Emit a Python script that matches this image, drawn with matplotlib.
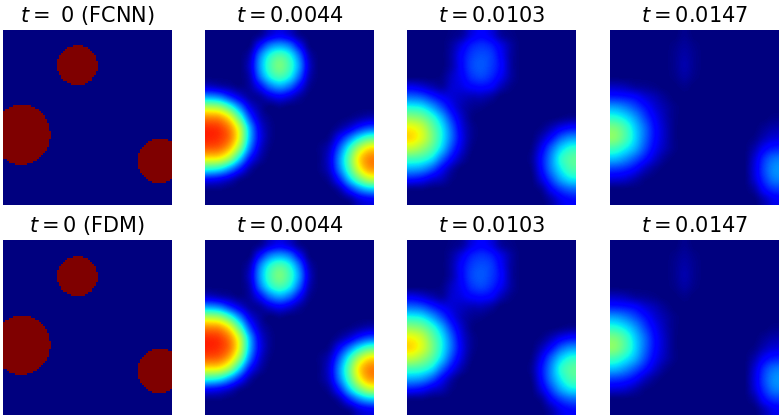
import numpy as np
import matplotlib
matplotlib.use('Agg')
import matplotlib.pyplot as plt

# initial discs, panel fractions
disc_x = [0.441, 0.110, 0.925]
disc_y = [0.206, 0.600, 0.749]
disc_rx = [0.122, 0.168, 0.126]
disc_ry = [0.114, 0.171, 0.128]

# values on a 17x17 grid
field_0044 = [
    [0, 0, 0, 0, 0, .02, .08, .11, .08, .02, 0, 0, 0, 0, 0, 0, 0],
    [0, 0, 0, 0, .01, .13, .24, .28, .24, .12, .01, 0, 0, 0, 0, 0, 0],
    [0, 0, 0, 0, .05, .24, .38, .44, .38, .23, .05, 0, 0, 0, 0, 0, 0],
    [0, 0, 0, 0, .07, .27, .42, .49, .42, .27, .07, 0, 0, 0, 0, 0, 0],
    [0, 0, 0, 0, .05, .23, .37, .43, .37, .22, .05, 0, 0, 0, 0, 0, 0],
    [.07, .05, .03, .01, .03, .12, .23, .28, .23, .12, .02, 0, 0, 0, 0, 0, 0],
    [.28, .25, .17, .09, .03, .03, .08, .11, .08, .03, 0, 0, 0, 0, 0, 0, 0],
    [.56, .53, .42, .26, .10, .03, 0, .01, 0, 0, 0, 0, 0, 0, 0, 0, 0],
    [.76, .74, .64, .44, .20, .06, .01, 0, 0, 0, 0, 0, 0, 0, .01, .03, .05],
    [.86, .84, .76, .58, .30, .10, .02, 0, 0, 0, 0, 0, 0, .03, .08, .15, .20],
    [.87, .85, .78, .60, .31, .11, .02, 0, 0, 0, 0, 0, .02, .12, .24, .36, .44],
    [.81, .79, .70, .51, .25, .08, .01, 0, 0, 0, 0, .01, .06, .21, .39, .56, .66],
    [.65, .63, .53, .34, .14, .04, 0, 0, 0, 0, 0, .01, .08, .26, .46, .66, .76],
    [.39, .36, .27, .15, .04, 0, 0, 0, 0, 0, 0, .01, .07, .24, .43, .62, .73],
    [.13, .11, .07, .02, 0, 0, 0, 0, 0, 0, 0, 0, .03, .15, .32, .47, .57],
    [.01, .01, 0, 0, 0, 0, 0, 0, 0, 0, 0, 0, 0, .04, .15, .25, .31],
    [0, 0, 0, 0, 0, 0, 0, 0, 0, 0, 0, 0, 0, 0, .02, .08, .11],
]
field_0103 = [
    [0, 0, 0, 0, .01, .03, .09, .12, .09, .03, .01, 0, 0, 0, 0, 0, 0],
    [0, 0, 0, 0, .03, .09, .15, .17, .15, .09, .03, 0, 0, 0, 0, 0, 0],
    [0, 0, 0, 0, .04, .12, .18, .20, .18, .11, .03, 0, 0, 0, 0, 0, 0],
    [0, 0, 0, 0, .04, .12, .19, .21, .18, .12, .03, 0, 0, 0, 0, 0, 0],
    [0, 0, 0, .01, .06, .11, .17, .19, .16, .10, .03, 0, 0, 0, 0, 0, 0],
    [.10, .08, .05, .03, .07, .09, .12, .13, .11, .05, .01, 0, 0, 0, 0, 0, 0],
    [.23, .21, .16, .11, .08, .06, .05, .05, .03, 0, 0, 0, 0, 0, 0, 0, 0],
    [.38, .36, .29, .20, .11, .05, .02, .01, 0, 0, 0, 0, 0, 0, 0, 0, 0],
    [.52, .49, .41, .30, .17, .07, .01, 0, 0, 0, 0, 0, 0, 0, 0, .01, .02],
    [.64, .59, .48, .36, .22, .09, .02, 0, 0, 0, 0, 0, 0, .01, .05, .10, .13],
    [.67, .61, .50, .37, .23, .10, .02, 0, 0, 0, 0, 0, 0, .05, .13, .22, .27],
    [.58, .53, .45, .33, .19, .08, .01, 0, 0, 0, 0, 0, .01, .10, .22, .33, .39],
    [.43, .41, .35, .23, .12, .04, 0, 0, 0, 0, 0, 0, .02, .13, .26, .39, .45],
    [.29, .27, .21, .12, .04, 0, 0, 0, 0, 0, 0, 0, .01, .12, .25, .36, .43],
    [.14, .12, .08, .05, .01, 0, 0, 0, 0, 0, 0, 0, 0, .08, .19, .29, .35],
    [.01, .01, 0, 0, 0, 0, 0, 0, 0, 0, 0, 0, 0, .02, .11, .18, .22],
    [0, 0, 0, 0, 0, 0, 0, 0, 0, 0, 0, 0, 0, 0, .04, .10, .13],
]
field_0147 = [
    [0, 0, 0, 0, 0, 0, 0, .015, 0, 0, 0, 0, 0, 0, 0, 0, 0],
    [0, 0, 0, 0, 0, 0, .01, .025, .01, 0, 0, 0, 0, 0, 0, 0, 0],
    [0, 0, 0, 0, 0, 0, .015, .035, .015, 0, 0, 0, 0, 0, 0, 0, 0],
    [0, 0, 0, 0, 0, 0, .015, .04, .015, 0, 0, 0, 0, 0, 0, 0, 0],
    [0, 0, 0, 0, 0, 0, .01, .03, .01, 0, 0, 0, 0, 0, 0, 0, 0],
    [.06, .05, .03, .02, .01, 0, 0, .01, 0, 0, 0, 0, 0, 0, 0, 0, 0],
    [.15, .14, .12, .08, .05, .02, 0, 0, 0, 0, 0, 0, 0, 0, 0, 0, 0],
    [.28, .25, .20, .14, .08, .04, .01, 0, 0, 0, 0, 0, 0, 0, 0, 0, 0],
    [.39, .35, .28, .19, .11, .05, .01, 0, 0, 0, 0, 0, 0, 0, 0, 0, .01],
    [.49, .43, .33, .23, .13, .06, .01, 0, 0, 0, 0, 0, 0, 0, 0, .02, .04],
    [.51, .44, .34, .23, .13, .06, .01, 0, 0, 0, 0, 0, 0, 0, .01, .05, .08],
    [.42, .37, .30, .20, .11, .05, .01, 0, 0, 0, 0, 0, 0, 0, .04, .11, .15],
    [.31, .27, .21, .14, .07, .02, 0, 0, 0, 0, 0, 0, 0, 0, .07, .17, .23],
    [.18, .16, .12, .06, .02, 0, 0, 0, 0, 0, 0, 0, 0, 0, .08, .19, .26],
    [.08, .07, .04, .01, 0, 0, 0, 0, 0, 0, 0, 0, 0, 0, .07, .17, .24],
    [0, 0, 0, 0, 0, 0, 0, 0, 0, 0, 0, 0, 0, 0, .03, .12, .17],
    [0, 0, 0, 0, 0, 0, 0, 0, 0, 0, 0, 0, 0, 0, 0, .05, .10],
]

top_titles = [r'$t=$ 0 (FCNN)', r'$t=0.0044$', r'$t=0.0103$', r'$t=0.0147$']
bottom_titles = [r'$t=0$ (FDM)', r'$t=0.0044$', r'$t=0.0103$', r'$t=0.0147$']


def initial_field():
    xx, yy = np.meshgrid((np.arange(85)+0.5)/85, (np.arange(88)+0.5)/88)
    u = np.zeros(xx.shape)
    for cx, cy, rx, ry in zip(disc_x, disc_y, disc_rx, disc_ry):
        u[((xx-cx)/rx)**2 + ((yy-cy)/ry)**2 <= 1] = 1
    return u


W, H = 784, 418
lefts = [3, 205, 407, 610]
tops = [30, 240]
fig = plt.figure(figsize=(W/100, H/100), dpi=100)
fields = [initial_field(), field_0044, field_0103, field_0147]

for top, titles in zip(tops, [top_titles, bottom_titles]):
    for left, u, title in zip(lefts, fields, titles):
        ax = fig.add_axes([left/W, 1-(top+175)/H, 169/W, 175/H])
        interp = 'nearest' if u is fields[0] else 'catrom'
        ax.imshow(np.array(u), cmap='jet', vmin=0, vmax=1, aspect='auto', interpolation=interp)
        ax.set_title(title, fontsize=15, pad=6)
        ax.axis('off')

plt.savefig('out.png', dpi=100)
